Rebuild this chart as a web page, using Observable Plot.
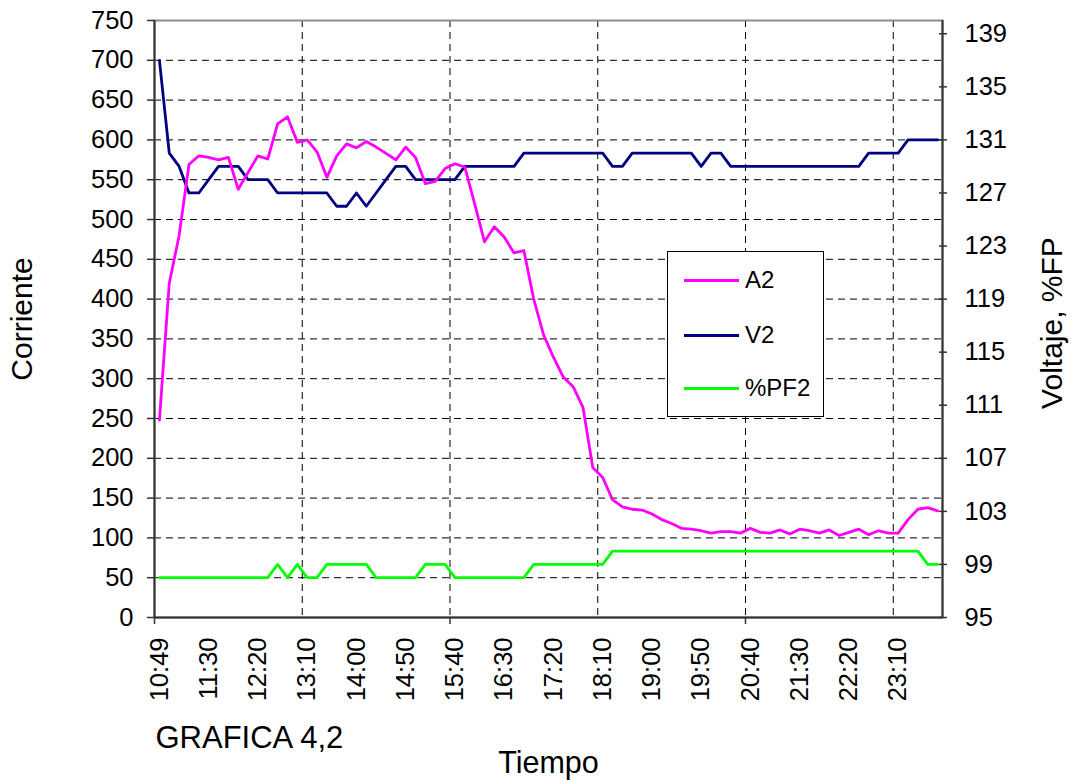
<!DOCTYPE html>
<html>
<head>
<meta charset="utf-8">
<script src="https://cdn.jsdelivr.net/npm/d3@7"></script>
<script src="https://cdn.jsdelivr.net/npm/@observablehq/plot@0.6"></script>
<style>
  body { margin: 0; background: #fff; }
  #wrap { position: relative; width: 1073px; height: 780px; font-family: "Liberation Sans", Arial, sans-serif; }
  #legend { position: absolute; left: 667px; top: 251px; width: 157px; height: 166px; box-sizing: border-box;
            border: 1.5px solid #000; background: #fff; }
  .item { position: absolute; left: 0; width: 100%; height: 0; }
  .item .sw { position: absolute; left: 16px; width: 55px; height: 3px; top: -1.5px; }
  .item .lb { position: absolute; left: 77px; top: -14px; font-size: 24px; line-height: 28px; color: #000; white-space: nowrap; }
</style>
</head>
<body>
<div id="wrap"><div id="legend"></div></div>
<script>
// ---- Data ----
const tickLabels = ["10:49","11:30","12:20","13:10","14:00","14:50","15:40","16:30",
                    "17:20","18:10","19:00","19:50","20:40","21:30","22:20","23:10"];

// Corriente A2 (left axis)
const A2 = [248,420,480,569,580,578,575,578,538,559,
            580,576,620,629,597,600,585,553,580,595,
            590,598,591,583,575,591,578,545,548,564,
            570,566,520,472,491,478,458,461,400,355,
            327,302,290,264,188,176,148,139,136,135,
            130,123,118,112,111,109,106,108,108,106,
            112,107,106,110,105,111,109,106,110,103,
            107,111,104,109,106,106,123,136,138,134];

// Voltaje V2 (right axis)
const V2 = [137,130,129,127,127,128,129,129,129,128,
            128,128,127,127,127,127,127,127,126,126,
            127,126,127,128,129,129,128,128,128,128,
            128,129,129,129,129,129,129,130,130,130,
            130,130,130,130,130,130,129,129,130,130,
            130,130,130,130,130,129,130,130,129,129,
            129,129,129,129,129,129,129,129,129,129,
            129,129,130,130,130,130,131,131,131,131];

// %PF2 (right axis)
const PF2 = [98,98,98,98,98,98,98,98,98,98,
             98,98,99,98,99,98,98,99,99,99,
             99,99,98,98,98,98,98,99,99,99,
             98,98,98,98,98,98,98,98,99,99,
             99,99,99,99,99,99,100,100,100,100,
             100,100,100,100,100,100,100,100,100,100,
             100,100,100,100,100,100,100,100,100,100,
             100,100,100,100,100,100,100,100,99,99];

const leftTicks = [0,50,100,150,200,250,300,350,400,450,500,550,600,650,700,750];
const rightTicks = [95,99,103,107,111,115,119,123,127,131,135,139];
const rightDomain = [95, 140];
const seriesNames = ["A2","V2","%PF2"];
const seriesColors = ["#ff00ff","#000080","#00ff00"];

// ---- Scales ----
const nCat = A2.length;                // 80 categories
const leftDomain = [0, 750];
const yRight = d3.scaleLinear(rightDomain, leftDomain); // right-axis value -> left units
const catStep = 5, gridStep = 15, xTickStep = 30;
const labelIdx = tickLabels.map((_, i) => i * catStep);
const vGrid = d3.range(gridStep, nCat, gridStep);
const xTicks = d3.range(0, nCat, xTickStep);

const font = "Liberation Sans, Arial, sans-serif";
const axisColor = "#333";

const chart = Plot.plot({
  width: 1073,
  height: 780,
  marginLeft: 154,
  marginRight: 131,
  marginTop: 20,
  marginBottom: 163,
  style: { fontFamily: font, fontSize: "25px", color: "#000", background: "#fff", overflow: "visible" },
  x: { domain: [0, nCat], axis: null },
  y: { domain: leftDomain, axis: null },
  marks: [
    Plot.gridY({ ticks: leftTicks.filter(d => d > 0 && d < 750), stroke: "#000", strokeOpacity: 1, strokeDasharray: "7,5", strokeWidth: 1 }),
    Plot.gridX({ ticks: vGrid, stroke: "#000", strokeOpacity: 1, strokeDasharray: "7,5", strokeWidth: 1 }),
    Plot.frame({ stroke: "#8c8c8c", strokeWidth: 2 }),
    Plot.ruleX([0, nCat], { stroke: axisColor, strokeWidth: 2 }),
    Plot.ruleY([0], { stroke: axisColor, strokeWidth: 2 }),
    Plot.axisY({ anchor: "left", ticks: leftTicks, tickSize: 7, tickPadding: 14, tickFormat: d => d, fontSize: 25.5, label: null, stroke: axisColor, strokeWidth: 1.5 }),
    Plot.axisY({ anchor: "right", ticks: rightTicks.map(yRight), tickSize: 8, dx: -4, tickFormat: () => "", label: null, stroke: axisColor, strokeWidth: 1.5 }),
    Plot.axisY({ anchor: "right", ticks: rightTicks.map(yRight), tickSize: 0, tickPadding: 22, tickFormat: d => Math.round(yRight.invert(d)), fontSize: 25.5, label: null }),
    Plot.axisX({ anchor: "bottom", ticks: xTicks, tickSize: 7, tickFormat: () => "", label: null, stroke: axisColor, strokeWidth: 1.5 }),
    Plot.text(tickLabels, { x: (d, i) => labelIdx[i] + 0.5, frameAnchor: "bottom", rotate: -90, textAnchor: "end", lineAnchor: "middle", dy: 20, fontSize: 25.5, fill: "#000" }),
    Plot.line(PF2, { x: (d, i) => i + 0.5, y: d => yRight(d), stroke: seriesColors[2], strokeWidth: 2.8 }),
    Plot.line(V2, { x: (d, i) => i + 0.5, y: d => yRight(d), stroke: seriesColors[1], strokeWidth: 2.8 }),
    Plot.line(A2, { x: (d, i) => i + 0.5, y: d => d, stroke: seriesColors[0], strokeWidth: 2.8 }),
    Plot.text(["Corriente"], { frameAnchor: "left", textAnchor: "middle", lineAnchor: "middle", dx: -132, dy: 0, rotate: -90, fontSize: 30, fill: "#000" }),
    Plot.text(["Voltaje, %FP"], { frameAnchor: "right", textAnchor: "middle", lineAnchor: "middle", dx: 110, dy: 4, rotate: -90, fontSize: 30, fill: "#000" }),
    Plot.text(["Tiempo"], { frameAnchor: "bottom", textAnchor: "middle", lineAnchor: "middle", dy: 146, fontSize: 30.5, fill: "#000" }),
    Plot.text(["GRAFICA 4,2"], { frameAnchor: "bottom-left", textAnchor: "start", lineAnchor: "middle", dx: 1, dy: 121, fontSize: 31, fill: "#000" })
  ]
});

const wrap = document.getElementById("wrap");
wrap.insertBefore(chart, wrap.firstChild);

// ---- Legend ----
const legend = document.getElementById("legend");
const legendY = [28, 83, 136];
seriesNames.forEach((name, i) => {
  const item = document.createElement("div");
  item.className = "item";
  item.style.top = legendY[i] + "px";
  item.innerHTML = `<div class="sw" style="background:${seriesColors[i]}"></div><div class="lb">${name}</div>`;
  legend.appendChild(item);
});
</script>
</body>
</html>
